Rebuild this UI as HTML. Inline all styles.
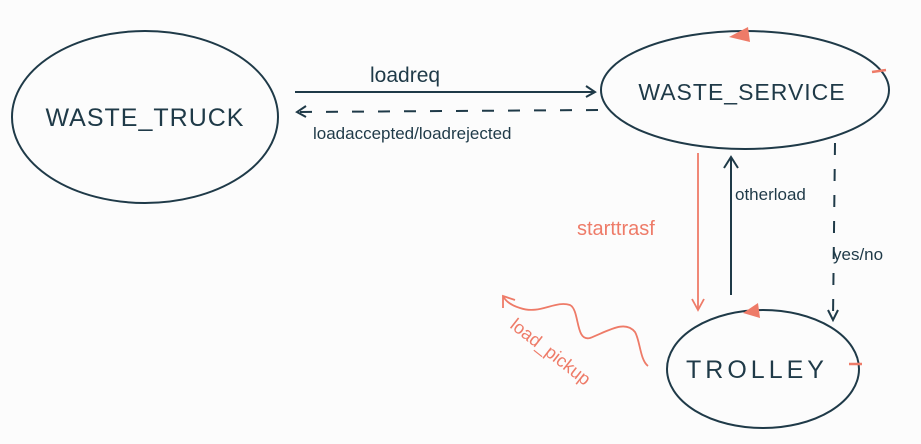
<!DOCTYPE html>
<html><head><meta charset="utf-8"><style>
html,body{margin:0;padding:0;background:#fcfcfc;}
svg{display:block}
text{font-family:"Liberation Sans",sans-serif;}
</style></head><body>
<svg width="921" height="444" viewBox="0 0 921 444" xmlns="http://www.w3.org/2000/svg">
<rect width="921" height="444" fill="#fcfcfc"/>
<g fill="none" stroke="#1f3a48" stroke-width="2">
<ellipse cx="145" cy="117" rx="133" ry="86"/>
<ellipse cx="745" cy="90" rx="144" ry="59"/>
<ellipse cx="763" cy="369" rx="96" ry="59"/>
<line x1="295" y1="92" x2="594" y2="92"/>
<polyline points="586,86 595,92 586,97"/>
<line x1="598" y1="110" x2="300" y2="112" stroke-dasharray="12,14"/>
<polyline points="306,106 297,112 306,117"/>
<line x1="731" y1="295" x2="731" y2="158"/>
<polyline points="724,168 731,157 738,168"/>
<line x1="835" y1="143" x2="833" y2="318" stroke-dasharray="12,14"/>
<polyline points="828,310 833,320 838,310"/>
</g>
<g fill="none" stroke="#ee7b68" stroke-width="1.8">
<line x1="698" y1="153" x2="698" y2="309"/>
<polyline points="692,299 698,310 704,299"/>
<path d="M648,366 C640,360 640,340 635,332 C625,320 610,330 590,338 C575,342 580,310 570,305 C555,300 540,315 520,308 C510,305 505,300 503,296"/>
<polyline points="503,308 503,296 515,300"/>
<line x1="872" y1="72" x2="886" y2="70" stroke-width="2.5"/>
<line x1="849" y1="364" x2="862" y2="364" stroke-width="2.5"/>
</g>
<polygon points="729,37 748,27 750,42" fill="#ee7b68"/>
<polygon points="743,313 758,303 760,318" fill="#ee7b68"/>
<g fill="#1f3a48">
<text x="145" y="126" font-size="25" text-anchor="middle" letter-spacing="1">WASTE_TRUCK</text>
<text x="742" y="100" font-size="23" text-anchor="middle" letter-spacing="1">WASTE_SERVICE</text>
<text x="757" y="378" font-size="25" text-anchor="middle" letter-spacing="4">TROLLEY</text>
<text x="370" y="82" font-size="21">loadreq</text>
<text x="313" y="139" font-size="17">loadaccepted/loadrejected</text>
<text x="735" y="200" font-size="17">otherload</text>
<text x="833" y="260" font-size="17">yes/no</text>
</g>
<g fill="#ee7b68">
<text x="577" y="235" font-size="20">starttrasf</text>
<text x="0" y="0" font-size="18" transform="translate(509,327) rotate(38)">load_pickup</text>
</g>
</svg>
</body></html>
